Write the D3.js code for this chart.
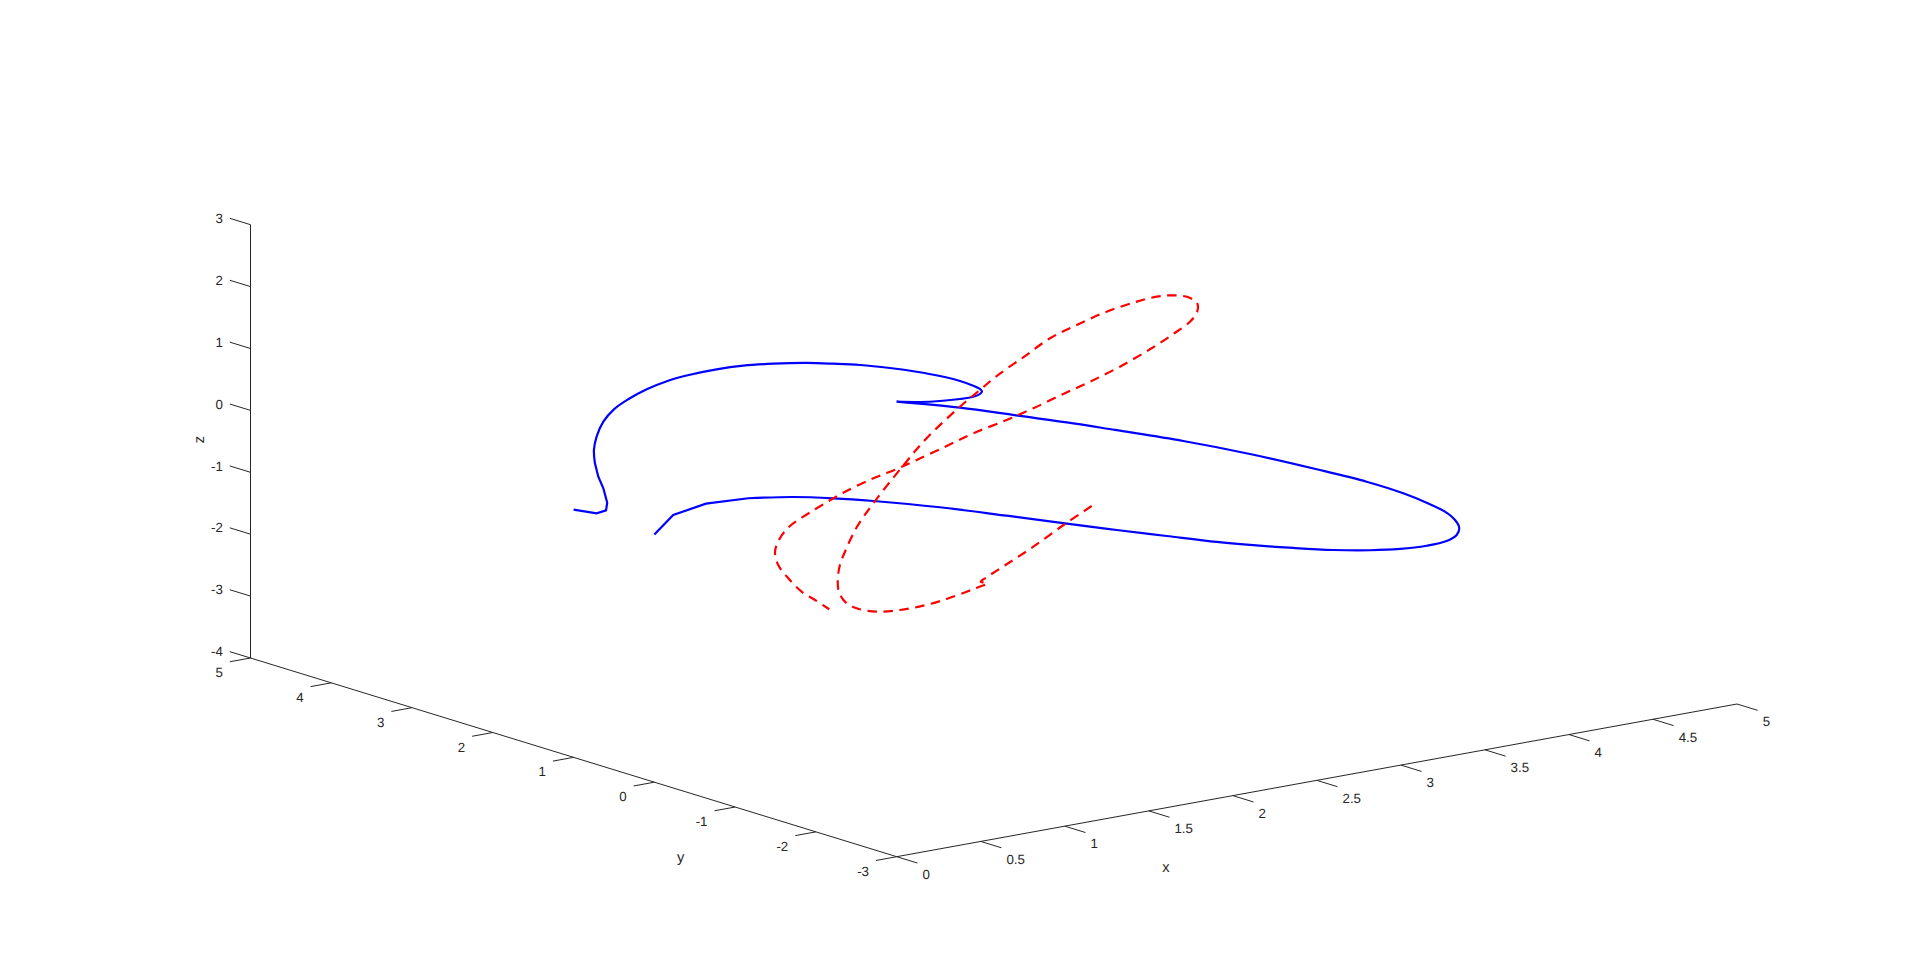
<!DOCTYPE html>
<html lang="en">

<head>
    <meta charset="UTF-8">
    <title>plot3</title>
    <script src="https://d3js.org/d3.v7.min.js"></script>
    <style>
        body { margin: 0; background: #fff; }
        svg { display: block; }
        text { font-family: "Liberation Sans", Arial, sans-serif; fill: #262626; text-rendering: geometricPrecision; }
    </style>
</head>

<body>
    <svg width="1920" height="963"></svg>

<script>
    var xTicks = [0, 0.5, 1, 1.5, 2, 2.5, 3, 3.5, 4, 4.5, 5];
    var yTicks = [-3, -2, -1, 0, 1, 2, 3, 4, 5];
    var zTicks = [-4, -3, -2, -1, 0, 1, 2, 3];

    // blue curve. depth can't be read off one view, so y is a rough guess per section
    var blueX = [0, 0.112, 0.307, 0.559, 0.826, 1.065, 1.303, 1.699, 2.096, 2.443, 2.751, 3.048, 3.346, 3.544, 3.802, 4.040, 4.258, 4.437, 4.595, 4.714, 4.774, 4.789, 4.764, 4.704, 4.595, 4.456, 4.238, 3.941, 3.544, 3.147, 2.741, 2.493, 2.164, 1.818, 1.441,
        2.061, 2.180, 2.299, 2.378, 2.418, 2.430, 2.418, 2.378, 2.299, 2.180, 2.041, 1.882, 1.704, 1.545, 1.387, 1.188, 1.010, 0.851, 0.692, 0.563, 0.435, 0.325, 0.240, 0.177, 0.137, 0.121, 0.127, 0.147, 0.177, 0.200, 0.193, 0.137, 0];
    var blueY = [0, 0, 0, 0, 0, 0, 0, 0, 0, 0, 0, 0, 0, 0, 0, 0, 0, 0, 0, 0, 0, 0, 0, 0, 0, 0, 0, 0, 0, 0, 0, 0, 0, 0, 0,
        1, 1, 1, 1, 1, 1, 1, 1, 1, 1, 1, 1, 1, 1, 1, 1, 1, 1, 1, 1, 1, 1, 1, 1, 1, 1, 1, 1, 1, 1, 1, 1, 1];
    var blueZ = [0, 0.261, 0.348, 0.311, 0.200, 0.061, -0.100, -0.397, -0.729, -1.023, -1.283, -1.527, -1.770, -1.916, -2.092, -2.242, -2.354, -2.421, -2.447, -2.429, -2.362, -2.252, -2.115, -1.951, -1.752, -1.531, -1.237, -0.889, -0.446, -0.041, 0.338, 0.568, 0.853, 1.153, 1.436,
        0.724, 0.681, 0.655, 0.653, 0.677, 0.715, 0.758, 0.831, 0.946, 1.085, 1.223, 1.361, 1.498, 1.597, 1.687, 1.773, 1.829, 1.849, 1.840, 1.807, 1.731, 1.624, 1.504, 1.336, 1.113, 0.906, 0.688, 0.462, 0.260, 0.015, -0.104, -0.125, 0.001];

    // red dashed curve
    var redX = [2.602, 2.443, 2.255, 2.096, 1.977, 1.942, 1.981, 1.927, 1.858, 1.739, 1.600, 1.461, 1.323, 1.204, 1.134, 1.098, 1.091, 1.104, 1.134, 1.204, 1.303, 1.481, 1.620, 1.818, 1.937, 2.037, 2.195, 2.354, 2.513, 2.691, 2.870, 2.989, 3.088, 3.177, 3.230, 3.230, 3.187, 3.088, 2.949, 2.770, 2.592, 2.433, 2.255, 2.096, 1.898, 1.739, 1.561, 1.442, 1.303, 1.124, 0.966, 0.886, 0.807, 0.747, 0.718, 0.737, 0.797, 0.876, 0.956, 1.041];
    var redY = [0, 0, 0, 0, 0, 0, 0, 0, 0, 0, 0, 0, 0, 0, 0, 0, 0, 0, 0, 0, 0, 0, 0, 0, 0, 0, 0, 0, 0, 0, 0, 0, 0, 0, 0, 0, 0, 0, 0, 0, 0, 0, 0, 0, 0, 0, 0, 0, 0, 0, 0, 0, 0, 0, 0, 0, 0, 0, 0, 0];
    var redZ = [-0.822, -1.034, -1.308, -1.514, -1.665, -1.719, -1.764, -1.802, -1.839, -1.898, -1.938, -1.939, -1.898, -1.785, -1.643, -1.464, -1.272, -1.036, -0.836, -0.476, -0.137, 0.386, 0.757, 1.169, 1.380, 1.557, 1.781, 2.010, 2.146, 2.273, 2.347, 2.369, 2.342, 2.266, 2.143, 2.007, 1.867, 1.717, 1.539, 1.346, 1.191, 1.071, 0.928, 0.817, 0.700, 0.573, 0.435, 0.348, 0.267, 0.122, -0.052, -0.148, -0.259, -0.428, -0.631, -0.855, -1.099, -1.355, -1.528, -1.720];

    var svg = d3.select("svg");

    // front corner of the box, where x=0, y=-3, z=-4
    var cornerX = 896.7,
        cornerY = 856.7;

    // orthographic view, so every data axis is just a linear shift on screen
    var xAcross = d3.scaleLinear().domain([0, 5]).range([0, 840.3]),
        xUp = d3.scaleLinear().domain([0, 5]).range([0, -152.7]),
        yAcross = d3.scaleLinear().domain([-3, 5]).range([0, -646.2]),
        yUp = d3.scaleLinear().domain([-3, 5]).range([0, -198.7]),
        zUp = d3.scaleLinear().domain([-4, 3]).range([0, -433.3]);

    function project(x, y, z) {
        return [cornerX + xAcross(x) + yAcross(y), cornerY + xUp(x) + yUp(y) + zUp(z)];
    }

    function points(xs, ys, zs) {
        return xs.map(function(d, i) {
            return project(d, ys[i], zs[i]);
        });
    }

    var line = d3.line();
    var smooth = d3.line().curve(d3.curveCatmullRom.alpha(0.5));

    // axis lines
    var axisPath = [
        [project(0, -3, -4), project(5, -3, -4)],
        [project(0, -3, -4), project(0, 5, -4)],
        [project(0, 5, -4), project(0, 5, 3)]
    ];

    svg.append("g")
        .selectAll("path")
        .data(axisPath)
        .enter().append("path")
        .attr("d", line)
        .attr("fill", "none")
        .attr("stroke", "#262626")
        .attr("stroke-width", 1);

    function drawTicks(ticks, from, to, labelDx, labelDy, anchor) {
        var g = svg.append("g")
            .selectAll("g")
            .data(ticks)
            .enter().append("g");

        g.append("path")
            .attr("d", function(d) {
                return line([from(d), to(d)]);
            })
            .attr("fill", "none")
            .attr("stroke", "#262626")
            .attr("stroke-width", 1);

        g.append("text")
            .attr("x", function(d) {
                return to(d)[0] + labelDx;
            })
            .attr("y", function(d) {
                return to(d)[1] + labelDy;
            })
            .attr("dy", "0.35em")
            .attr("text-anchor", anchor)
            .attr("font-size", 13.3)
            .text(function(d) {
                return d;
            });
    }

    drawTicks(xTicks,
        function(d) { return project(d, -3, -4); },
        function(d) { return project(d, -3.256, -4); },
        5, 11.3, "start");

    drawTicks(yTicks,
        function(d) { return project(0, d, -4); },
        function(d) { return project(-0.123, d, -4); },
        -7, 10.7, "end");

    drawTicks(zTicks,
        function(d) { return project(0, 5, d); },
        function(d) { return project(0, 5.256, d); },
        -7, 0, "end");

    // axis titles
    svg.append("text")
        .attr("x", 1166)
        .attr("y", 867)
        .attr("dy", "0.35em")
        .attr("text-anchor", "middle")
        .attr("font-size", 14.7)
        .text("x");

    svg.append("text")
        .attr("x", 680.7)
        .attr("y", 857)
        .attr("dy", "0.35em")
        .attr("text-anchor", "middle")
        .attr("font-size", 14.7)
        .text("y");

    svg.append("text")
        .attr("transform", "translate(198.4,439.6)rotate(-90)")
        .attr("dy", "0.35em")
        .attr("text-anchor", "middle")
        .attr("font-size", 14.7)
        .text("z");

    // the two curves. blue keeps its hard corners at the start, the cusp and the tail
    var bluePts = points(blueX, blueY, blueZ);

    svg.append("path")
        .attr("d", line(bluePts.slice(0, 4)) + smooth(bluePts.slice(3, 35)) + smooth(bluePts.slice(34, 62)) + line(bluePts.slice(61)))
        .attr("fill", "none")
        .attr("stroke", "#0000ff")
        .attr("stroke-width", 2.2);

    svg.append("path")
        .attr("d", smooth(points(redX, redY, redZ)))
        .attr("fill", "none")
        .attr("stroke", "#ff0000")
        .attr("stroke-width", 2.2)
        .attr("stroke-dasharray", "9.5 6.5");
</script>

</body>

</html>
